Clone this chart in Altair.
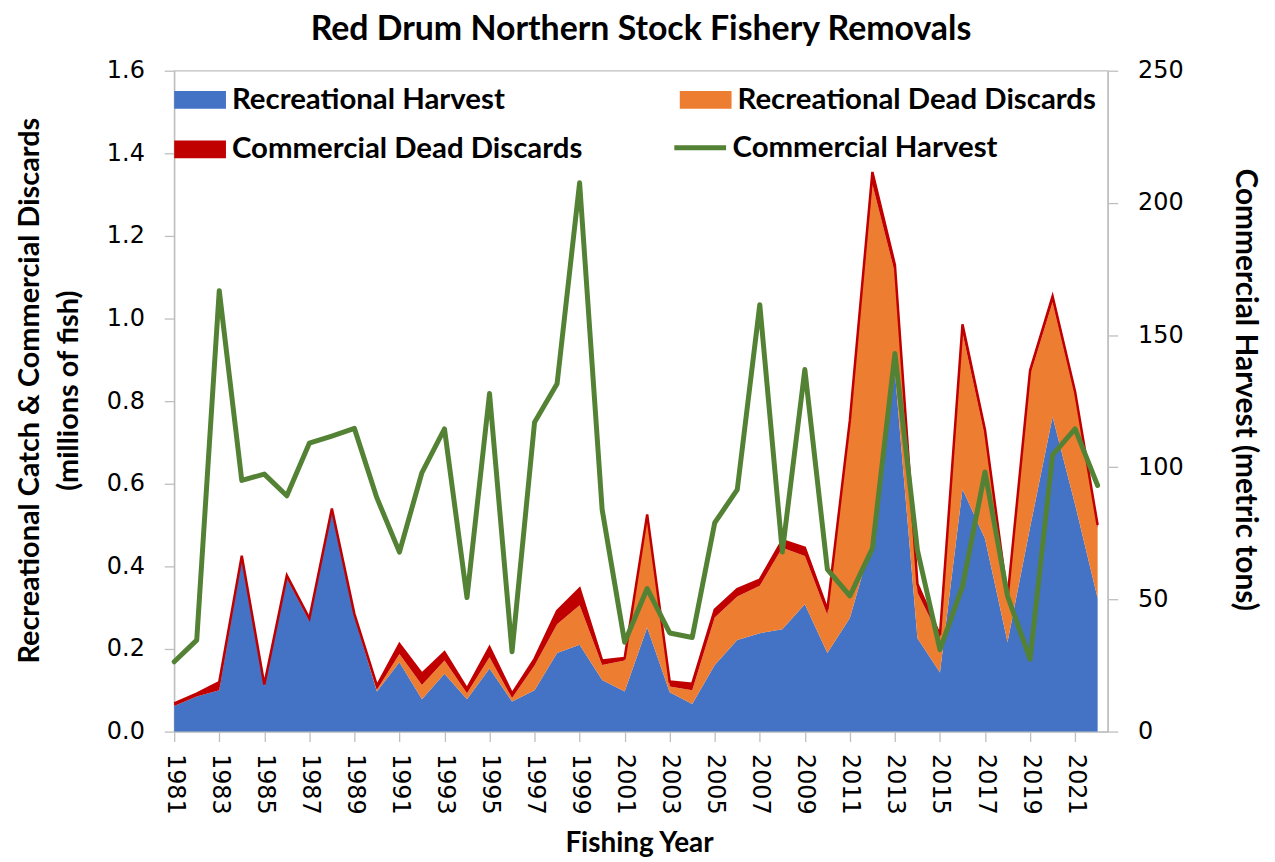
import altair as alt
import pandas as pd

years = list(range(1981, 2023))

rec_harvest = [0.062, 0.085, 0.100, 0.418, 0.110, 0.372, 0.268, 0.532, 0.280, 0.097,
               0.168, 0.078, 0.140, 0.078, 0.153, 0.073, 0.100, 0.190, 0.210, 0.125,
               0.097, 0.252, 0.095, 0.067, 0.161, 0.222, 0.238, 0.248, 0.308, 0.190,
               0.275, 0.465, 0.870, 0.226, 0.143, 0.587, 0.467, 0.217, 0.494, 0.762,
               0.550, 0.323]
rec_dead_discards = [0.000, 0.000, 0.000, 0.000, 0.000, 0.000, 0.000, 0.000, 0.000, 0.004,
                     0.020, 0.035, 0.032, 0.015, 0.027, 0.008, 0.060, 0.070, 0.096, 0.036,
                     0.075, 0.262, 0.014, 0.033, 0.115, 0.105, 0.115, 0.197, 0.117, 0.092,
                     0.469, 0.860, 0.240, 0.111, 0.083, 0.379, 0.249, 0.097, 0.370, 0.278,
                     0.263, 0.167]
com_dead_discards = [0.006, 0.007, 0.020, 0.008, 0.004, 0.006, 0.006, 0.008, 0.005, 0.010,
                     0.024, 0.027, 0.020, 0.011, 0.024, 0.011, 0.016, 0.032, 0.040, 0.011,
                     0.006, 0.012, 0.012, 0.016, 0.019, 0.018, 0.015, 0.018, 0.020, 0.014,
                     0.010, 0.030, 0.020, 0.020, 0.008, 0.020, 0.014, 0.010, 0.010, 0.014,
                     0.010, 0.010]
com_harvest_mt = [26.4, 34.6, 166.8, 95.0, 97.4, 89.2, 109.1, 111.8, 114.7, 88.4,
                  67.9, 98.0, 114.5, 50.7, 127.9, 30.2, 117.0, 131.6, 207.6, 84.0,
                  33.8, 54.1, 37.3, 35.6, 79.0, 91.5, 161.5, 67.9, 137.0, 61.4,
                  51.3, 69.3, 143.0, 68.6, 31.0, 54.9, 98.2, 51.3, 27.4, 104.7,
                  114.5, 93.1]

series_names = ["Recreational Harvest", "Recreational Dead Discards", "Commercial Dead Discards"]
series_colors = ["#4472C4", "#ED7D31", "#C00000"]
line_name = "Commercial Harvest"
line_color = "#548235"
left_ticks = [0.0, 0.2, 0.4, 0.6, 0.8, 1.0, 1.2, 1.4, 1.6]
right_ticks = [0, 50, 100, 150, 200, 250]

rows = []
for i, yr in enumerate(years):
    for k, (name, vals) in enumerate(zip(series_names, [rec_harvest, rec_dead_discards, com_dead_discards])):
        rows.append({"year": yr, "series": name, "ord": k, "value": vals[i]})
area_df = pd.DataFrame(rows)
line_df = pd.DataFrame({"year": years, "harvest": com_harvest_mt, "series": line_name})

BOLD_FONT = "Lato"
GRAY = "#BFBFBF"

x_scale = alt.Scale(domain=[1981, 2022.45], nice=False, zero=False)
x_title = "Fishing Year"
x_axis = alt.Axis(values=years, format="d",
                  labelExpr="datum.value % 2 == 1 ? datum.label : ''",
                  labelAngle=90, labelOverlap=False, labelFlush=False,
                  tickSize=10, labelPadding=12,
                  titleX=467, titleY=112, titleBaseline="middle", titleAlign="center")

left_title = ["Recreational Catch & Commercial Discards", "(millions of fish)"]
left_axis = alt.Axis(values=left_ticks, format=".1f", tickSize=10, labelPadding=20,
                     titleAngle=-90, titleX=-145, titleY=321, titleBaseline="middle",
                     titleAlign="center", titleLineHeight=39, titleFontSize=29)
right_axis = alt.Axis(orient="right", values=right_ticks, format="d", tickSize=10, labelPadding=20,
                      titleAngle=90, titleX=137, titleY=320, titleBaseline="middle",
                      titleAlign="center", titleFontSize=30)

rect_path = "M-1,-0.346L1,-0.346L1,0.346L-1,0.346Z"

area_legend = alt.Legend(orient="none", legendX=0, legendY=3, columns=2, direction="horizontal",
                         columnPadding=97, rowPadding=9, symbolType=rect_path, symbolSize=2704,
                         symbolStrokeWidth=0, symbolOpacity=1, labelOffset=6,
                         labelFont=BOLD_FONT, labelFontWeight="bold", labelFontSize=29.5,
                         labelColor="black", labelLimit=0, title=None, padding=0)
line_legend = alt.Legend(orient="none", legendX=500, legendY=49, symbolType="stroke",
                         symbolSize=2704, symbolStrokeWidth=5, labelOffset=4,
                         labelFont=BOLD_FONT, labelFontWeight="bold", labelFontSize=29.5,
                         labelColor="black", labelLimit=0, title=None, padding=0)

area = alt.Chart(area_df).mark_area(opacity=1, interpolate="linear").encode(
    x=alt.X("year:Q", scale=x_scale, axis=x_axis, title=x_title),
    y=alt.Y("value:Q", stack="zero", scale=alt.Scale(domain=[0, 1.6], nice=False),
            axis=left_axis, title=left_title),
    color=alt.Color("series:N", scale=alt.Scale(domain=series_names, range=series_colors),
                    legend=area_legend),
    order=alt.Order("ord:Q", sort="ascending"),
)

top = alt.Chart(area_df).transform_aggregate(
    total="sum(value)", groupby=["year"]
).mark_line(color="#C00000", strokeWidth=2.5, strokeJoin="miter").encode(
    x=alt.X("year:Q", scale=x_scale, title=x_title),
    y=alt.Y("total:Q", scale=alt.Scale(domain=[0, 1.6], nice=False), axis=None),
)

line = alt.Chart(line_df).mark_line(strokeWidth=5, strokeCap="round", strokeJoin="round").encode(
    x=alt.X("year:Q", scale=x_scale, title=x_title),
    y=alt.Y("harvest:Q", scale=alt.Scale(domain=[0, 250], nice=False), axis=right_axis,
            title="Commercial Harvest (metric tons)"),
    stroke=alt.Stroke("series:N", scale=alt.Scale(domain=[line_name], range=[line_color]),
                      legend=line_legend),
)

chart = alt.layer(area, top, line).resolve_scale(y="independent").properties(
    width=938, height=664,
    title=alt.TitleParams("Red Drum Northern Stock Fishery Removals", fontSize=34,
                          font=BOLD_FONT, fontWeight="bold", anchor="middle",
                          frame="group", offset=12, color="black"),
    autosize=alt.AutoSizeParams(type="none"),
    padding={"left": 167, "top": 61, "right": 160, "bottom": 125},
).configure_view(
    stroke=GRAY, strokeWidth=1.3
).configure_axis(
    grid=False, domainColor=GRAY, domainWidth=1.3, tickColor=GRAY, tickWidth=1.3,
    labelFont="DejaVu Sans", labelFontSize=24, labelColor="black",
    titleFont=BOLD_FONT, titleFontWeight="bold", titleFontSize=28, titleColor="black",
)

chart.save("out.html", embed_options={"renderer": "svg", "actions": False})
